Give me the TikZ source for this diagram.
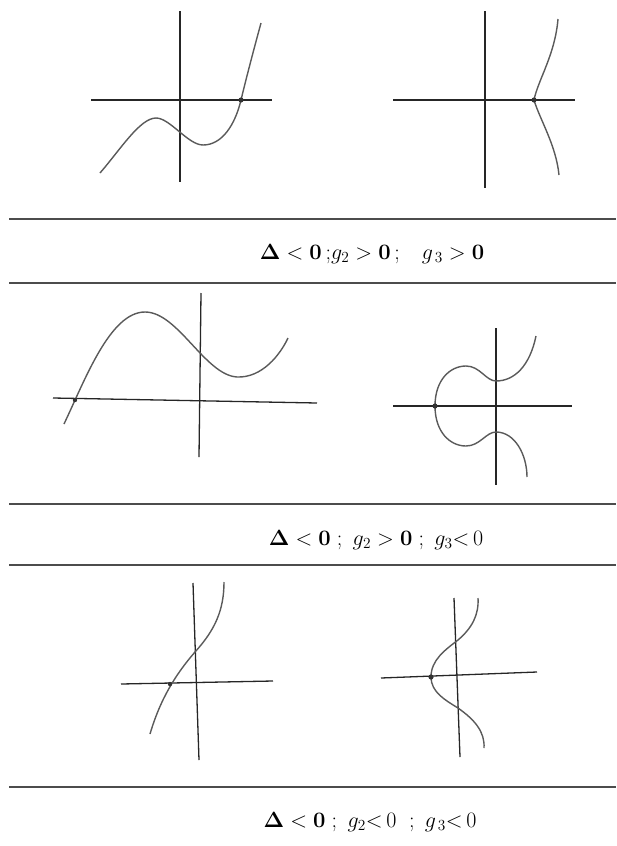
\RequirePackage{fix-cm}
\documentclass[tikz,border=0pt]{standalone}
\usepackage{amsmath}
\usepackage{amssymb}
\usepackage{xcolor}
\usepackage{tikz}
\definecolor{curvegray}{RGB}{90, 90, 90}

\begin{document}
\begin{tikzpicture}[x=1pt, y=-1pt,
    axis/.style={line width=1.3pt, black!85},
    curve/.style={line width=1.4pt, curvegray},
    root/.style={fill=black!80},
    caselabel/.style={font=\fontsize{22}{26}\selectfont, inner sep=0pt}]
    \useasboundingbox (0,0) rectangle (616,846);

    % Separator lines
    \foreach \y in {219, 283, 504, 565, 787} {
        \draw[line width=1.5pt, black!70] (9,\y) -- (616,\y);
    }

    % Case 1: one real root
    \draw[axis] (91,100) -- (272,100);
    \draw[axis] (180,11) -- (180,182);
    \draw[curve] (100,173) .. controls (120,150) and (140,118) .. (156,118)
        .. controls (170,118) and (188,145) .. (203,145)
        .. controls (222,145) and (235,125) .. (241,100)
        .. controls (247,75) and (255,45) .. (261,23);
    \fill[root] (241,100) circle (2.6pt);

    \draw[axis] (393,100) -- (575,100);
    \draw[axis] (485,11) -- (485,188);
    \draw[curve] (558,19) .. controls (555,55) and (538,80) .. (534,100)
        .. controls (540,120) and (556,145) .. (559,175);
    \fill[root] (534,100) circle (2.6pt);

    \node[caselabel] (case1) at (372,254) {$\mathbf{\Delta} < \mathbf{0}$\,;$g_2 > \mathbf{0}$\,;\quad $g_{\,3} > \mathbf{0}$};

    % Case 2: three real roots
    \draw[axis] (53,398) -- (317,403);
    \draw[axis] (201,293) -- (199,457);
    \draw[curve] (64,424) .. controls (85,380) and (110,312) .. (145,312)
        .. controls (178,312) and (205,375) .. (237,377)
        .. controls (262,378) and (280,355) .. (288,338);
    \fill[root] (75,400) circle (2.2pt);

    \draw[axis] (393,406) -- (572,406);
    \draw[axis] (496,328) -- (496,485);
    \draw[curve] (536,336) .. controls (530,365) and (515,381) .. (496,381)
        .. controls (486,381) and (480,366) .. (466,366)
        .. controls (450,366) and (435,380) .. (435,406)
        .. controls (435,432) and (450,446) .. (466,446)
        .. controls (480,446) and (486,432) .. (496,432)
        .. controls (515,432) and (527,455) .. (527,477);
    \fill[root] (435,406) circle (2.6pt);

    \node[caselabel] (case2) at (376,540) {$\mathbf{\Delta} < \mathbf{0}$\;; \,$g_2 > \mathbf{0}$\;; \,$g_3 {<}\, 0$};

    % Case 3: g2 < 0
    \draw[axis] (121,684) -- (273,681);
    \draw[axis] (193,583) -- (199,760);
    \draw[curve] (150,734) .. controls (160,700) and (175,675) .. (195,652)
        .. controls (215,630) and (224,610) .. (224,582);
    \fill[root] (170,684) circle (2.2pt);

    \draw[axis] (381,678) -- (537,672);
    \draw[axis] (454,598) -- (460,757);
    \draw[curve] (478,598) .. controls (479,615) and (472,628) .. (458,640)
        .. controls (445,650) and (431,660) .. (431,677)
        .. controls (431,692) and (445,700) .. (458,708)
        .. controls (475,720) and (485,732) .. (484,748);
    \fill[root] (431,677) circle (2.6pt);

    \node[caselabel] (case3) at (370,822) {$\mathbf{\Delta} < \mathbf{0}$\;; \,$g_2 {<}\, 0$\; ; \,$g_{\,3} {<}\, 0$};
\end{tikzpicture}
\end{document}
